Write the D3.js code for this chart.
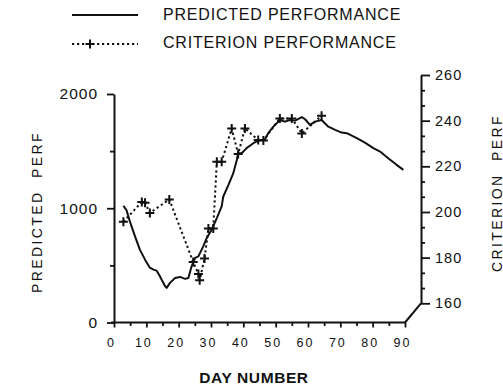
<!DOCTYPE html>
<html>
<head>
<meta charset="utf-8">
<script src="https://cdn.jsdelivr.net/npm/d3@7"></script>
<style>
  body { margin: 0; background: #fff; }
  text { font-family: "Liberation Sans", Arial, Helvetica, sans-serif; fill: #111; }
</style>
</head>
<body>
<svg id="chart" width="503" height="392"></svg>
<script>
// Predicted performance (left axis) by day
const predDays = [2.9, 3.9, 4.9, 6.5, 8.0, 9.6, 11.1, 12.2, 13.2, 14.2, 15.8, 16.3, 17.3, 18.9, 20.4, 22.0, 23.0, 24.0, 25.1, 26.1, 27.6, 28.7, 30.2, 31.8, 33.3, 33.8, 35.4, 36.9, 38.0, 38.4, 39.5, 41.0, 43.1, 44.6, 46.7, 47.7, 49.3, 51.3, 52.9, 54.4, 56.0, 58.1, 59.1, 60.6, 62.2, 64.2, 66.3, 68.4, 70.4, 72.0, 75.1, 77.6, 80.2, 82.3, 84.8, 87.4, 89.5];
const predValues = [1022, 981, 885, 754, 638, 550, 480, 463, 454, 405, 317, 303, 347, 390, 399, 382, 390, 492, 565, 579, 666, 740, 812, 914, 1016, 1103, 1205, 1307, 1424, 1482, 1482, 1526, 1569, 1592, 1604, 1657, 1714, 1773, 1758, 1773, 1767, 1797, 1779, 1729, 1758, 1773, 1714, 1686, 1662, 1657, 1613, 1575, 1526, 1496, 1438, 1380, 1336];

// Criterion performance (right axis) by day
const critDays = [2.9, 8.6, 9.6, 11.1, 17.1, 24.5, 26.1, 26.5, 28.0, 29.2, 30.7, 31.8, 33.3, 36.4, 38.4, 40.5, 44.6, 46.2, 51.3, 55.0, 58.1, 64.2];
const critValues = [195.7, 204.4, 204.0, 199.6, 205.5, 178.1, 172.8, 170.1, 179.6, 192.8, 192.8, 222.0, 222.0, 236.6, 225.4, 236.6, 231.5, 231.3, 241.0, 241.0, 234.4, 242.2];

// Axis tick values and labels
const dayTicks = [0, 10, 20, 30, 40, 50, 60, 70, 80, 90];
const dayMinorTicks = [5, 15, 25, 35, 45, 55, 65, 75, 85];
const leftTicks = [0, 1000, 2000];
const leftMinorTicks = [500, 1500];
const rightTicks = [160, 180, 200, 220, 240, 260];
const rightMinorStep = 20 / 3;

const legendLabels = ["PREDICTED PERFORMANCE", "CRITERION PERFORMANCE"];
const xTitle = "DAY NUMBER";
const leftTitle = "PREDICTED  PERF";
const rightTitle = "CRITERION  PERF";

const ink = "#111";
const svg = d3.select("#chart");

const x = d3.scaleLinear().domain([0, 90]).range([114, 405]);
const yL = d3.scaleLinear().domain([0, 2000]).range([322.5, 94]);
const yR = d3.scaleLinear().domain([160, 260]).range([303.3, 75]);
const rightX = 421;

function styleAxis(g, fontSize, spacing) {
  g.selectAll("path.domain").attr("stroke", ink).attr("stroke-width", 2);
  g.selectAll(".tick line").attr("stroke", ink).attr("stroke-width", 1.8);
  g.selectAll(".tick text")
    .attr("fill", ink)
    .style("font-family", '"Liberation Sans", Arial, sans-serif')
    .style("font-size", fontSize + "px")
    .style("letter-spacing", spacing + "px");
}

// Left axis
const gL = svg.append("g").attr("transform", `translate(${x(0)},0)`)
  .call(d3.axisLeft(yL).tickValues(leftTicks).tickSize(7).tickSizeOuter(0).tickPadding(9).tickFormat(d3.format("d")));
styleAxis(gL, 15.5, 1);
svg.append("g").attr("transform", `translate(${x(0)},0)`)
  .call(d3.axisLeft(yL).tickValues(leftMinorTicks).tickSize(4).tickFormat(""))
  .call(g => { g.select(".domain").remove(); styleAxis(g, 12, 0); });

// Bottom axis
const gB = svg.append("g").attr("transform", `translate(0,${yL(0)})`)
  .call(d3.axisBottom(x).tickValues(dayTicks).tickSize(5).tickSizeOuter(0).tickPadding(10.5));
styleAxis(gB, 12.5, 2);
gB.selectAll(".tick text").attr("x", -3);
gB.select(".domain").attr("d", `M${x(0) - 3},0H${x(90)}`);
svg.append("g").attr("transform", `translate(0,${yL(0)})`)
  .call(d3.axisBottom(x).tickValues(dayMinorTicks).tickSize(3.5).tickFormat(""))
  .call(g => { g.select(".domain").remove(); styleAxis(g, 12, 0); });

// Corner link between the two baselines
svg.append("path")
  .attr("d", `M${x(90)},${yL(0)}L${rightX},${yR(160)}`)
  .attr("stroke", ink).attr("stroke-width", 2).attr("fill", "none");

// Right axis with minor ticks at thirds between labelled values
const gR = svg.append("g").attr("transform", `translate(${rightX},0)`)
  .call(d3.axisRight(yR).tickValues(rightTicks).tickSize(9).tickSizeOuter(0).tickPadding(5));
styleAxis(gR, 14.5, 1);
const rightMinor = d3.range(160, 260, 20).flatMap(v => [v + rightMinorStep, v + 2 * rightMinorStep]);
svg.append("g").attr("transform", `translate(${rightX},0)`)
  .call(d3.axisRight(yR).tickValues(rightMinor).tickSize(4).tickFormat(""))
  .call(g => { g.select(".domain").remove(); styleAxis(g, 12, 0); });

// Predicted performance line
const pred = predDays.map((d, i) => [d, predValues[i]]);
svg.append("path")
  .datum(pred)
  .attr("d", d3.line().x(d => x(d[0])).y(d => yL(d[1])))
  .attr("fill", "none").attr("stroke", ink).attr("stroke-width", 2).attr("stroke-linejoin", "round");

// Criterion performance: dotted line with plus markers
const crit = critDays.map((d, i) => [d, critValues[i]]);
svg.append("path")
  .datum(crit)
  .attr("d", d3.line().x(d => x(d[0])).y(d => yR(d[1])))
  .attr("fill", "none").attr("stroke", ink).attr("stroke-width", 2)
  .attr("stroke-dasharray", "2.2,2.8");

function plusMark(sel, cx, cy) {
  const r = 4.5;
  sel.append("path")
    .attr("d", `M${cx - r},${cy}H${cx + r}M${cx},${cy - r}V${cy + r}`)
    .attr("stroke", ink).attr("stroke-width", 2).attr("fill", "none");
}
const marks = svg.append("g");
crit.forEach(d => plusMark(marks, x(d[0]), yR(d[1])));

// Legend
const lg = svg.append("g");
lg.append("line").attr("x1", 72).attr("x2", 138).attr("y1", 15).attr("y2", 15)
  .attr("stroke", ink).attr("stroke-width", 1.8);
lg.append("text").attr("x", 163).attr("y", 20)
  .style("font-size", "16px").style("letter-spacing", "0.8px").text(legendLabels[0]);
lg.append("line").attr("x1", 72).attr("x2", 138).attr("y1", 44).attr("y2", 44)
  .attr("stroke", ink).attr("stroke-width", 2).attr("stroke-dasharray", "2.2,2.8");
plusMark(lg, 90, 44);
lg.append("text").attr("x", 163).attr("y", 47.5)
  .style("font-size", "16px").style("letter-spacing", "0.8px").text(legendLabels[1]);

// Axis titles
svg.append("text").attr("x", 254).attr("y", 383).attr("text-anchor", "middle")
  .style("font-size", "15.5px").style("font-weight", "bold").style("letter-spacing", "0.6px")
  .text(xTitle);
svg.append("text").attr("transform", "translate(42,212) rotate(-90)").attr("text-anchor", "middle")
  .style("font-size", "14px").style("letter-spacing", "2.4px").style("white-space", "pre")
  .text(leftTitle);
svg.append("text").attr("transform", "translate(501.5,193) rotate(-90)").attr("text-anchor", "middle")
  .style("font-size", "14px").style("letter-spacing", "2.4px").style("white-space", "pre")
  .text(rightTitle);
</script>
</body>
</html>
